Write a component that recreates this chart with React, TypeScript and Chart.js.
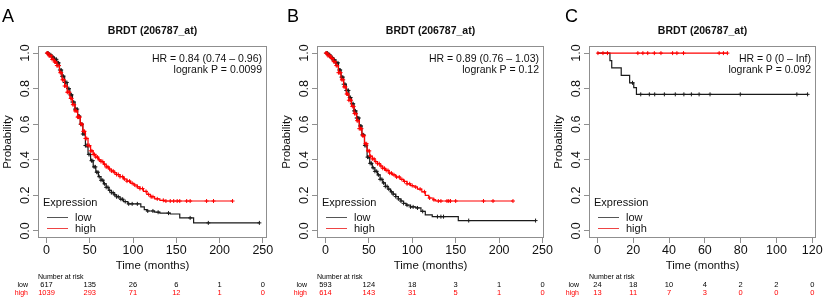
import React, { useEffect, useRef } from "react";
import { Chart, registerables } from "chart.js";

Chart.register(...registerables);

const FONT = "'Liberation Sans', Arial, Helvetica, sans-serif";
const RED = "#ff0000";
const BLACK = "#1a1a1a";
const BOX = "#8f8f8f";
const TEXT = "#111111";

// ---------- Panel A ----------
const A_LOW_T = [0, 3, 6, 9, 12, 15, 18, 21, 24, 27, 30, 33, 36, 39, 42, 45, 48, 51, 54, 57, 60, 63, 66, 69, 72, 75, 78, 81, 85, 89, 94, 109, 113, 116, 125, 131, 143, 154, 170, 246];
const A_LOW_S = [1, 0.99, 0.978, 0.965, 0.945, 0.905, 0.87, 0.835, 0.8, 0.765, 0.725, 0.685, 0.645, 0.6, 0.545, 0.48, 0.43, 0.395, 0.36, 0.33, 0.305, 0.285, 0.265, 0.245, 0.228, 0.215, 0.203, 0.192, 0.178, 0.165, 0.152, 0.135, 0.12, 0.112, 0.105, 0.1, 0.095, 0.073, 0.045, 0.045];
const A_LOW_CENS = [1, 2, 3.5, 5, 6, 7.5, 9, 10, 11.5, 13, 14, 15.5, 17, 18, 19.5, 21, 22, 23.5, 25, 26, 27.5, 29, 30, 31.5, 33, 34, 35.5, 37, 38, 39.5, 41, 42, 43.5, 45, 46, 47.5, 49, 50.5, 52, 53.5, 55, 56.5, 58, 59.5, 61, 63, 65, 67, 69, 71, 73, 75, 77, 79, 81, 83, 86, 88, 91, 95, 99, 105, 117, 123, 129, 141, 166, 187, 246];
const A_HIGH_T = [0, 3, 6, 9, 12, 15, 18, 21, 24, 27, 30, 33, 36, 39, 42, 45, 48, 51, 54, 57, 60, 63, 66, 69, 72, 75, 78, 81, 85, 89, 93, 97, 101, 105, 108, 112, 116, 120, 125, 131, 136, 215];
const A_HIGH_S = [1, 0.985, 0.965, 0.95, 0.93, 0.89, 0.85, 0.815, 0.78, 0.745, 0.71, 0.675, 0.64, 0.6, 0.56, 0.52, 0.48, 0.45, 0.43, 0.415, 0.4, 0.39, 0.375, 0.36, 0.348, 0.337, 0.327, 0.317, 0.305, 0.292, 0.28, 0.268, 0.258, 0.248, 0.238, 0.222, 0.205, 0.192, 0.18, 0.172, 0.168, 0.168];
const A_HIGH_CENS = [0.5, 1.5, 3, 4, 5.5, 6.5, 8, 9.5, 10.5, 12, 13, 14.5, 16, 17, 18.5, 20, 21, 22.5, 24, 25, 26.5, 28, 29, 30.5, 32, 33, 34.5, 36, 37, 38.5, 40, 41, 42.5, 44, 45, 46.5, 48, 49.5, 51, 52.5, 54, 55.5, 57, 59, 61, 63, 65, 67, 69, 71, 73, 75, 77, 79, 81, 83, 85, 88, 90, 93, 96, 99, 102, 105, 108, 111, 115, 118, 121, 123, 128, 135, 138, 143, 147, 151, 154, 162, 166, 185, 193, 215];
const A_X_TICKS = [0, 50, 100, 150, 200, 250];
const A_RISK_LOW = [617, 135, 26, 6, 1, 0];
const A_RISK_HIGH = [1039, 293, 71, 12, 1, 0];
const A_HR = ["HR = 0.84 (0.74 \u2013 0.96)", "logrank P = 0.0099"];

// ---------- Panel B ----------
const B_LOW_T = [0, 3, 6, 9, 12, 15, 18, 21, 24, 27, 30, 33, 36, 39, 42, 45, 48, 51, 54, 57, 60, 63, 66, 69, 72, 75, 78, 81, 84, 87, 90, 93, 98, 104, 110, 115, 123, 153, 242];
const B_LOW_S = [1, 0.99, 0.975, 0.962, 0.945, 0.905, 0.865, 0.825, 0.79, 0.75, 0.715, 0.675, 0.635, 0.59, 0.54, 0.48, 0.415, 0.38, 0.355, 0.335, 0.315, 0.29, 0.27, 0.25, 0.235, 0.22, 0.207, 0.193, 0.18, 0.168, 0.155, 0.145, 0.135, 0.129, 0.11, 0.09, 0.08, 0.058, 0.058];
const B_LOW_CENS = [1, 2.5, 4, 5, 6.5, 8, 9, 10.5, 12, 13, 14.5, 16, 17, 18.5, 20, 21, 22.5, 24, 25, 26.5, 28, 29, 30.5, 32, 33, 34.5, 36, 37, 38.5, 40, 41, 42.5, 44, 45.5, 47, 48.5, 50, 51.5, 53, 55, 57, 59, 61, 63, 65, 67, 69, 71, 73, 76, 78, 81, 84, 87, 90, 94, 98, 101, 106, 112, 129, 133, 136, 165, 242];
const B_HIGH_T = [0, 3, 6, 9, 12, 15, 18, 21, 24, 27, 30, 33, 36, 39, 42, 45, 48, 51, 54, 57, 60, 63, 66, 69, 73, 77, 81, 86, 90, 94, 98, 102, 106, 111, 115, 119, 124, 127, 216];
const B_HIGH_S = [1, 0.985, 0.97, 0.952, 0.93, 0.89, 0.85, 0.81, 0.77, 0.735, 0.7, 0.66, 0.62, 0.575, 0.535, 0.49, 0.45, 0.42, 0.405, 0.39, 0.378, 0.365, 0.352, 0.34, 0.325, 0.315, 0.303, 0.29, 0.278, 0.265, 0.255, 0.247, 0.235, 0.22, 0.2, 0.185, 0.175, 0.168, 0.168];
const B_HIGH_CENS = [0.5, 1.5, 3, 4.5, 5.5, 7, 8.5, 9.5, 11, 12.5, 13.5, 15, 16.5, 17.5, 19, 20.5, 21.5, 23, 24.5, 25.5, 27, 28.5, 29.5, 31, 32.5, 33.5, 35, 36.5, 37.5, 39, 40.5, 41.5, 43, 44.5, 46, 47.5, 49, 50.5, 52, 54, 56, 58, 60, 62, 64, 66, 68, 70, 72, 74, 76, 79, 82, 85, 88, 91, 94, 97, 100, 104, 109, 114, 120, 125, 130, 133, 140, 142, 144, 150, 182, 193, 216];
const B_X_TICKS = [0, 50, 100, 150, 200, 250];
const B_RISK_LOW = [593, 124, 18, 3, 1, 0];
const B_RISK_HIGH = [614, 143, 31, 5, 1, 0];
const B_HR = ["HR = 0.89 (0.76 \u2013 1.03)", "logrank P = 0.12"];

// ---------- Panel C ----------
const C_LOW_T = [0, 7, 8, 13.3, 18, 20.3, 21.8, 117.4];
const C_LOW_S = [1, 0.958, 0.917, 0.875, 0.833, 0.806, 0.768, 0.768];
const C_LOW_CENS = [19.6, 24.2, 29, 32, 37.4, 43.5, 48.3, 52.5, 56.8, 62.9, 79.8, 111.4, 117.4];
const C_HIGH_T = [0, 72.6];
const C_HIGH_S = [1, 1];
const C_HIGH_CENS = [0.3, 3.1, 5.6, 22.6, 25.4, 28.1, 31.8, 35.5, 42, 44.4, 48.1, 68, 70.4, 72.6];
const C_X_TICKS = [0, 20, 40, 60, 80, 100, 120];
const C_RISK_LOW = [24, 18, 10, 4, 2, 2, 0];
const C_RISK_HIGH = [13, 11, 7, 3, 0, 0, 0];
const C_HR = ["HR = 0 (0 \u2013 Inf)", "logrank P = 0.092"];

const Y_TICKS = [0, 0.2, 0.4, 0.6, 0.8, 1.0];
const TITLE = "BRDT (206787_at)";
const X_TITLE = "Time (months)";
const Y_TITLE = "Probability";
const LEGEND_TITLE = "Expression";
const GROUPS = ["low", "high"];

const H = 300;
const BOX_TOP = 46;
const BOX_BOTTOM = 238;
const Y_AXIS_W = 38;
const X_AXIS_H = 35;

type PanelDef = {
  letter: string; left: number; width: number; letterX: number;
  boxLeft: number; boxRight: number; xMin: number; xMax: number; xTicks: number[];
  lowT: number[]; lowS: number[]; lowC: number[];
  highT: number[]; highS: number[]; highC: number[];
  riskLow: number[]; riskHigh: number[]; hr: string[];
};

const PANELS: PanelDef[] = [
  { letter: "A", left: 0, width: 285, letterX: 2, boxLeft: 38, boxRight: 267, xMin: -9.8, xMax: 254.8, xTicks: A_X_TICKS,
    lowT: A_LOW_T, lowS: A_LOW_S, lowC: A_LOW_CENS, highT: A_HIGH_T, highS: A_HIGH_S, highC: A_HIGH_CENS,
    riskLow: A_RISK_LOW, riskHigh: A_RISK_HIGH, hr: A_HR },
  { letter: "B", left: 275, width: 285, letterX: 12, boxLeft: 42, boxRight: 269, xMin: -9.7, xMax: 251.7, xTicks: B_X_TICKS,
    lowT: B_LOW_T, lowS: B_LOW_S, lowC: B_LOW_CENS, highT: B_HIGH_T, highS: B_HIGH_S, highC: B_HIGH_CENS,
    riskLow: B_RISK_LOW, riskHigh: B_RISK_HIGH, hr: B_HR },
  { letter: "C", left: 550, width: 275, letterX: 15, boxLeft: 39, boxRight: 266, xMin: -4.7, xMax: 122.1, xTicks: C_X_TICKS,
    lowT: C_LOW_T, lowS: C_LOW_S, lowC: C_LOW_CENS, highT: C_HIGH_T, highS: C_HIGH_S, highC: C_HIGH_CENS,
    riskLow: C_RISK_LOW, riskHigh: C_RISK_HIGH, hr: C_HR },
];

function survAt(ts: number[], ss: number[], t: number): number {
  let v = ss[0];
  for (let i = 0; i < ts.length; i++) if (ts[i] <= t) v = ss[i];
  return v;
}

function KMPanel({ p }: { p: PanelDef }) {
  const ref = useRef<HTMLCanvasElement | null>(null);
  useEffect(() => {
    const canvas = ref.current;
    if (!canvas) return;
    const pts = (ts: number[], ss: number[]) => ts.map((t, i) => ({ x: t, y: ss[i] }));
    const cens = (c: number[], ts: number[], ss: number[]) => c.map((t) => ({ x: t, y: survAt(ts, ss, t) }));

    const decor = {
      id: "kmDecor",
      afterDraw(chart: any) {
        const ctx = chart.ctx as CanvasRenderingContext2D;
        const a = chart.chartArea;
        const xs = chart.scales.x;
        ctx.save();
        ctx.strokeStyle = BOX;
        ctx.lineWidth = 1;
        const l = Math.round(a.left), r = Math.round(a.right), t = Math.round(a.top), b = Math.round(a.bottom);
        ctx.strokeRect(l + 0.5, t + 0.5, r - l - 1, b - t - 1);
        ctx.fillStyle = "#000";
        ctx.textAlign = "left";
        ctx.textBaseline = "alphabetic";
        ctx.font = `18px ${FONT}`;
        ctx.fillText(p.letter, p.letterX, 22);
        ctx.fillStyle = TEXT;
        ctx.font = `bold 10.5px ${FONT}`;
        ctx.textAlign = "center";
        ctx.fillText(TITLE, (a.left + a.right) / 2, 34);
        ctx.font = `10.5px ${FONT}`;
        ctx.textAlign = "right";
        ctx.fillText(p.hr[0], a.right - 5, 61.5);
        ctx.fillText(p.hr[1], a.right - 5, 73);
        ctx.textAlign = "left";
        ctx.font = `11px ${FONT}`;
        ctx.fillText(LEGEND_TITLE, a.left + 5, 206);
        const legY = [217, 228];
        const legCol = ["#555555", "#ee4444"];
        GROUPS.forEach((g, i) => {
          ctx.strokeStyle = legCol[i];
          ctx.beginPath();
          ctx.moveTo(a.left + 9, legY[i] + 0.5);
          ctx.lineTo(a.left + 30, legY[i] + 0.5);
          ctx.stroke();
          ctx.fillStyle = TEXT;
          ctx.fillText(g, a.left + 37, legY[i] + 3.5);
        });
        ctx.font = `7px ${FONT}`;
        ctx.fillStyle = "#000";
        ctx.textAlign = "left";
        ctx.fillText("Number at risk", a.left, 278.5);
        ctx.textAlign = "right";
        ctx.fillText(GROUPS[0], a.left - 10, 286.5);
        ctx.fillStyle = RED;
        ctx.fillText(GROUPS[1], a.left - 10, 295);
        ctx.textAlign = "center";
        ctx.font = `7.5px ${FONT}`;
        p.xTicks.forEach((tv, i) => {
          const x = xs.getPixelForValue(tv);
          ctx.fillStyle = "#000";
          ctx.fillText(String(p.riskLow[i]), x, 286.5);
          ctx.fillStyle = RED;
          ctx.fillText(String(p.riskHigh[i]), x, 295);
        });
        ctx.restore();
      },
    };

    const chart = new Chart(canvas, {
      type: "line",
      data: {
        datasets: [
          { type: "line", data: pts(p.highT, p.highS), borderColor: RED, borderWidth: 1.2, pointRadius: 0, stepped: true, fill: false } as any,
          { type: "scatter", data: cens(p.highC, p.highT, p.highS), borderColor: RED, backgroundColor: RED, pointStyle: "cross", pointRadius: 2, pointBorderWidth: 1, showLine: false } as any,
          { type: "line", data: pts(p.lowT, p.lowS), borderColor: BLACK, borderWidth: 1.2, pointRadius: 0, stepped: true, fill: false } as any,
          { type: "scatter", data: cens(p.lowC, p.lowT, p.lowS), borderColor: BLACK, backgroundColor: BLACK, pointStyle: "cross", pointRadius: 2, pointBorderWidth: 1, showLine: false } as any,
        ],
      },
      options: {
        animation: false,
        responsive: false,
        devicePixelRatio: 1,
        events: [],
        layout: {
          padding: {
            left: p.boxLeft - Y_AXIS_W,
            right: p.width - p.boxRight,
            top: BOX_TOP,
            bottom: H - BOX_BOTTOM - X_AXIS_H,
          },
        },
        plugins: { legend: { display: false }, tooltip: { enabled: false }, title: { display: false } },
        scales: {
          x: {
            type: "linear",
            min: p.xMin,
            max: p.xMax,
            afterBuildTicks: (s: any) => { s.ticks = p.xTicks.map((v) => ({ value: v })); },
            afterFit: (s: any) => { s.height = X_AXIS_H; s.paddingLeft = 0; s.paddingRight = 0; },
            ticks: { autoSkip: false, minRotation: 0, maxRotation: 0, padding: 0, color: TEXT, font: { size: 12.5, family: FONT }, callback: (v: any) => String(v) },
            grid: { drawOnChartArea: false, drawTicks: true, tickLength: 5, color: BOX, lineWidth: 1 },
            border: { display: false },
            title: { display: true, text: X_TITLE, color: TEXT, font: { size: 11.5, family: FONT }, padding: { top: 0, bottom: 0 } },
          },
          y: {
            type: "linear",
            min: -0.04,
            max: 1.04,
            afterBuildTicks: (s: any) => { s.ticks = Y_TICKS.map((v) => ({ value: v })); },
            afterFit: (s: any) => { s.width = Y_AXIS_W; s.paddingTop = 0; s.paddingBottom = 0; },
            ticks: { autoSkip: false, minRotation: 90, maxRotation: 90, crossAlign: "center", padding: -1, color: TEXT, font: { size: 12.5, family: FONT }, callback: (v: any) => Number(v).toFixed(1) },
            grid: { drawOnChartArea: false, drawTicks: true, tickLength: 5, color: BOX, lineWidth: 1 },
            border: { display: false },
            title: { display: true, text: Y_TITLE, color: TEXT, font: { size: 11.5, family: FONT }, padding: { top: 1.4, bottom: 0 } },
          },
        },
      } as any,
      plugins: [decor],
    });
    return () => chart.destroy();
  }, [p]);
  return (
    <canvas
      ref={ref}
      width={p.width}
      height={H}
      style={{ position: "absolute", left: p.left, top: 0, width: p.width, height: H }}
    />
  );
}

export default function App() {
  Chart.defaults.font.family = FONT;
  return (
    <div style={{ position: "absolute", left: 0, top: 0, width: 825, height: 300, background: "#fff", overflow: "hidden" }}>
      {PANELS.map((p) => (
        <KMPanel key={p.letter} p={p} />
      ))}
    </div>
  );
}
